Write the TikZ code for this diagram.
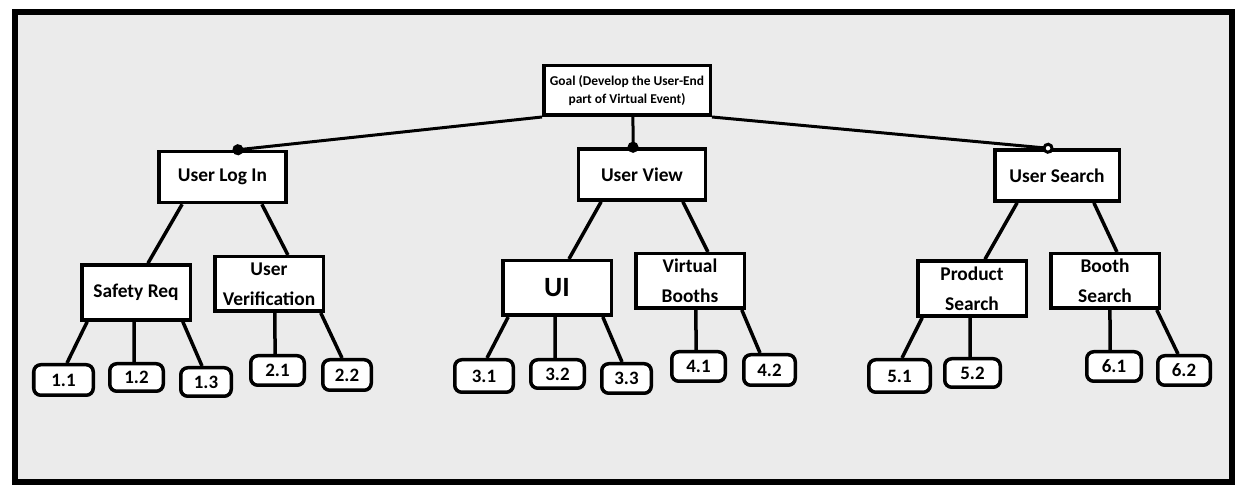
\documentclass[tikz,border=0pt]{standalone}
\usepackage{fontspec}
\setmainfont{Carlito}
\usepackage{xcolor}
\usetikzlibrary{arrows.meta,positioning}
\definecolor{panelgray}{RGB}{235,235,235}

\begin{document}
\begin{tikzpicture}[x=1bp, y=-1bp,
        box/.style={rectangle, draw, fill=white, line width=3.5bp, minimum width=108.5bp, minimum height=55bp, inner sep=2bp, align=center, font=\fontsize{19.5}{30}\selectfont\bfseries},
        topbox/.style={box, minimum width=127bp, minimum height=51bp},
        goalbox/.style={box, minimum width=166.5bp, minimum height=49.5bp, font=\fontsize{13.5}{18}\selectfont\bfseries},
        leaf/.style={rectangle, draw, fill=white, rounded corners=7bp, line width=3.5bp, minimum width=52bp, minimum height=29.5bp, inner sep=1bp, font=\fontsize{19}{20}\selectfont\bfseries},
        link/.style={line width=3.5bp},
        toplink/.style={line width=3bp}
    ]
        \useasboundingbox (0,0) rectangle (1242,493);
        \draw[line width=6bp, fill=panelgray] (15,12) rectangle (1231.5,481.5);

        % top levels
        \node[goalbox] (goal) at (627,90.5) {Goal (Develop the User-End\\part of Virtual Event)};
        \node[topbox] (login) at (222.5,177) {User Log In};
        \node[topbox] (view) at (642,174.5) {User View};
        \node[topbox, minimum width=124.5bp] (search) at (1057,175.5) {User Search};

        % second level
        \node[box] (safety) at (136,292.5) {Safety Req};
        \node[box, minimum height=54.5bp] (verif) at (269,284) {User\\Verification};
        \node[box, minimum height=54.5bp, font=\fontsize{28}{30}\selectfont\bfseries] (ui) at (557,288) {UI};
        \node[box, minimum height=54.5bp] (booths) at (690,281) {Virtual\\Booths};
        \node[box] (prodsearch) at (972,288.5) {Product\\Search};
        \node[box, minimum height=54.5bp] (boothsearch) at (1105,281) {Booth\\Search};

        % leaves
        \node[leaf, minimum width=59.5bp, minimum height=30.5bp] (l11) at (63.5,380) {1.1};
        \node[leaf, minimum width=53.5bp, minimum height=27.5bp] (l12) at (136.5,377.5) {1.2};
        \node[leaf, minimum width=50.5bp, minimum height=28.5bp] (l13) at (206,382) {1.3};
        \node[leaf, minimum width=53.5bp] (l21) at (277.5,370.5) {2.1};
        \node[leaf, minimum width=48.5bp, minimum height=30.5bp] (l22) at (347,375) {2.2};
        \node[leaf, minimum width=58.5bp, minimum height=32.5bp] (l31) at (484,376) {3.1};
        \node[leaf, minimum width=53.5bp, minimum height=28.5bp] (l32) at (557.5,374) {3.2};
        \node[leaf, minimum width=49.5bp] (l33) at (626.5,378.5) {3.3};
        \node[leaf, minimum width=53.5bp] (l41) at (698.5,366.5) {4.1};
        \node[leaf, minimum width=51.5bp, minimum height=30.5bp] (l42) at (769.5,370) {4.2};
        \node[leaf, minimum width=61.5bp, minimum height=32.5bp] (l51) at (899.5,376) {5.1};
        \node[leaf, minimum width=55.5bp, minimum height=28.5bp] (l52) at (972.5,373) {5.2};
        \node[leaf, minimum width=54.5bp] (l61) at (1114,366.5) {6.1};
        \node[leaf, minimum width=52.5bp] (l62) at (1184,370.5) {6.2};

        % goal to first level
        \draw[toplink, -{Circle[length=11bp]}, shorten >=-5.5bp] (goal.south west) -- ([xshift=15.5]login.north);
        \draw[toplink, -{Circle[length=11bp]}, shorten >=-5.5bp] ([xshift=6]goal.south) -- ([xshift=-9]view.north);
        \draw[toplink, -{Circle[open, length=11bp, fill=white]}, shorten >=-5.5bp] (goal.south east) -- ([xshift=-9]search.north);

        % first to second level
        \draw[link] ([xshift=-40.5]login.south) -- ([xshift=12]safety.north);
        \draw[link] ([xshift=39.5]login.south) -- ([xshift=19]verif.north);
        \draw[link] ([xshift=-41]view.south) -- ([xshift=12]ui.north);
        \draw[link] ([xshift=41]view.south) -- ([xshift=18]booths.north);
        \draw[link] ([xshift=-40]search.south) -- ([xshift=13]prodsearch.north);
        \draw[link] ([xshift=37]search.south) -- ([xshift=12]boothsearch.north);

        % second level to leaves
        \draw[link] ([xshift=-49]safety.south) -- ([xshift=3.5]l11.north);
        \draw[link] ([xshift=-2]safety.south) -- ([xshift=-2.5]l12.north);
        \draw[link] ([xshift=47]safety.south) -- ([xshift=-4]l13.north);
        \draw[link] ([xshift=6]verif.south) -- ([xshift=-2.5]l21.north);
        \draw[link] ([xshift=52]verif.south) -- ([xshift=-5]l22.north);
        \draw[link] ([xshift=-49]ui.south) -- ([xshift=3]l31.north);
        \draw[link] ([xshift=-2]ui.south) -- ([xshift=-2.5]l32.north);
        \draw[link] ([xshift=46]ui.south) -- ([xshift=-4.5]l33.north);
        \draw[link] ([xshift=6]booths.south) -- ([xshift=-2.5]l41.north);
        \draw[link] ([xshift=52]booths.south) -- ([xshift=-9.5]l42.north);
        \draw[link] ([xshift=-50]prodsearch.south) -- ([xshift=2.5]l51.north);
        \draw[link] ([xshift=-2]prodsearch.south) -- ([xshift=-2.5]l52.north);
        \draw[link] ([xshift=5]boothsearch.south) -- ([xshift=-4]l61.north);
        \draw[link] ([xshift=52]boothsearch.south) -- ([xshift=-6]l62.north);
    \end{tikzpicture}
\end{document}
